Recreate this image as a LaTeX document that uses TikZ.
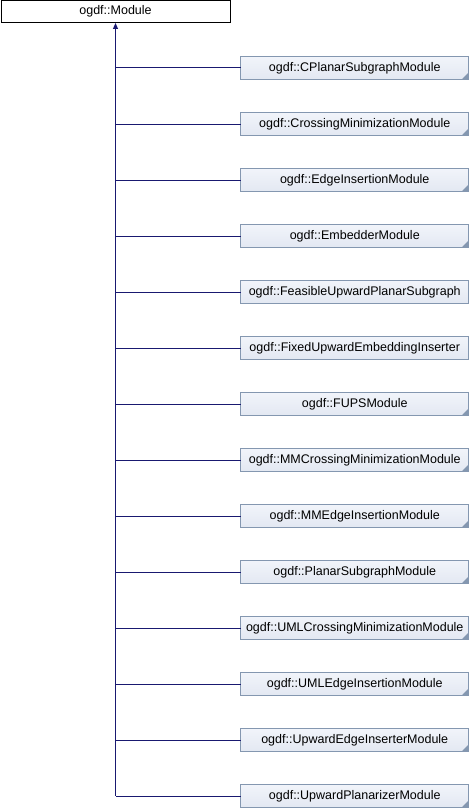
\documentclass[tikz,border=0pt]{standalone}
\usepackage{fontspec}
\setmainfont{Liberation Sans}
\usetikzlibrary{arrows.meta}
\definecolor{edgecol}{HTML}{191970}
\definecolor{boxborder}{HTML}{8497B0}
\definecolor{boxtop}{HTML}{F1F4FA}
\definecolor{boxbot}{HTML}{E3E8F2}
\tikzset{
  modbox/.style={draw=black, line width=1pt, fill=white, minimum width=229pt, minimum height=22.5pt,
    inner sep=0pt, outer sep=0pt, font=\fontsize{12.5pt}{14pt}\selectfont, text height=9pt, text depth=2.6pt},
  childbox/.style={draw=boxborder, line width=1pt, top color=boxtop, bottom color=boxbot,
    minimum width=228pt, minimum height=22.5pt, inner sep=0pt, outer sep=0pt,
    font=\fontsize{12.5pt}{14pt}\selectfont, text height=9pt, text depth=2.6pt},
  edge/.style={draw=edgecol, line width=1pt},
  corner/.style={fill=boxborder}
}
\begin{document}
\begin{tikzpicture}[x=1pt,y=-1pt]
\useasboundingbox (0,0) rectangle (470,808);
\node[modbox] (m) at (115.5,11.75) {ogdf::Module};
\foreach \n/\t [count=\i from 0] in {
  CPlanarSubgraphModule/1,
  CrossingMinimizationModule/1,
  EdgeInsertionModule/1,
  EmbedderModule/1,
  FeasibleUpwardPlanarSubgraph/0,
  FixedUpwardEmbeddingInserter/0,
  FUPSModule/1,
  MMCrossingMinimizationModule/1,
  MMEdgeInsertionModule/1,
  PlanarSubgraphModule/1,
  UMLCrossingMinimizationModule/1,
  UMLEdgeInsertionModule/1,
  UpwardEdgeInserterModule/1,
  UpwardPlanarizerModule/1}{
  \node[childbox] (c\i) at (354.75,{68+56*\i}) {ogdf::\n};
  \draw[edge] (c\i.west) -- (c\i.west -| m.south);
  \ifnum\t=1
    \fill[corner] ([xshift=-0.5pt,yshift=0.5pt]c\i.south east) -- ++(-6,0) -- ++(6,-6) -- cycle;
  \fi
}
\draw[edge, -{Triangle[length=6pt,width=5pt]}] (c13.west -| m.south) -- (m.south);
\end{tikzpicture}
\end{document}
